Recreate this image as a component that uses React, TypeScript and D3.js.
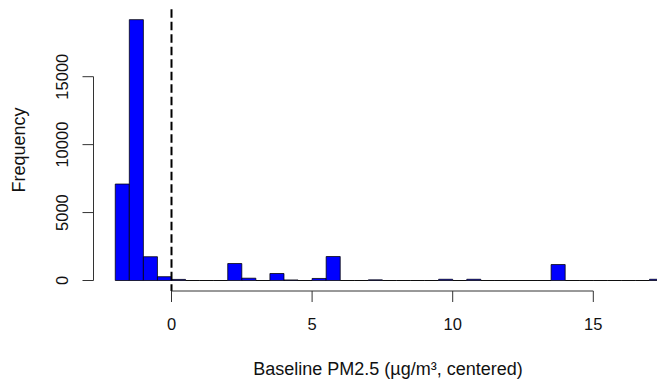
import React from "react";
import * as d3 from "d3";

// Histogram bins (lower edges) and counts
const binStart = -2;
const binWidth = 0.5;
const counts: number[] = [
  7100, 19200, 1750, 280, 80, 0, 0, 0, 1250, 170, 0, 515, 40, 0, 150, 1765,
  0, 0, 50, 0, 0, 0, 0, 90, 0, 90, 0, 0, 0, 0, 0, 1175, 0, 0, 0, 0, 0, 0, 90,
];
const xTicks = [0, 5, 10, 15];
const yTicks = [0, 5000, 10000, 15000];
const xLabel = "Baseline PM2.5 (µg/m³, centered)";
const yLabel = "Frequency";
const refLine = 0;

const W = 657;
const H = 385;
const FONT = "'Liberation Sans', Arial, Helvetica, sans-serif";

export default function App() {
  const x = d3.scaleLinear().domain([0, 15]).range([171.5, 593.3]);
  const y = d3.scaleLinear().domain([0, 15000]).range([280.5, 76.7]);
  const yTop = y(19968);
  const yBottom = y(-768);
  const xLeft = x(-2 - 0.78);

  const bins = counts.map((c, i) => ({
    x0: binStart + i * binWidth,
    x1: binStart + (i + 1) * binWidth,
    c,
  }));

  return (
    <svg
      width={W}
      height={H}
      style={{ position: "absolute", left: 0, top: 0, background: "#fff" }}
      fontFamily={FONT}
    >
      {bins.map((b, i) => {
        const x0 = x(b.x0);
        const x1 = x(b.x1);
        const y0 = y(0);
        const y1 = y(b.c);
        return (
          <path
            key={i}
            d={`M${x0},${y0}V${y1}H${x1}V${y0}Z`}
            fill="#0000ff"
            stroke="#000"
            strokeWidth={0.9}
            strokeOpacity={0.85}
          />
        );
      })}

      {/* reference line */}
      <line
        x1={x(refLine)}
        x2={x(refLine)}
        y1={yTop}
        y2={yBottom}
        stroke="#000"
        strokeWidth={2}
        strokeDasharray="8.5 4"
      />

      {/* x axis */}
      <g stroke="#333" strokeWidth={1}>
        <line x1={x(xTicks[0])} x2={x(xTicks[xTicks.length - 1])} y1={291} y2={291} />
        {xTicks.map((t) => (
          <line key={t} x1={x(t)} x2={x(t)} y1={291} y2={302} />
        ))}
      </g>
      {xTicks.map((t) => (
        <text key={t} x={x(t)} y={330} fontSize={16.5} textAnchor="middle" fill="#111">
          {t}
        </text>
      ))}
      <text x={388} y={375} fontSize={18} textAnchor="middle" fill="#111">
        {xLabel}
      </text>

      {/* y axis */}
      <g stroke="#333" strokeWidth={1}>
        <line x1={93.5} x2={93.5} y1={y(yTicks[0])} y2={y(yTicks[yTicks.length - 1])} />
        {yTicks.map((t) => (
          <line key={t} x1={82.5} x2={93.5} y1={y(t)} y2={y(t)} />
        ))}
      </g>
      {yTicks.map((t) => (
        <text
          key={t}
          transform={`translate(68,${y(t)}) rotate(-90)`}
          fontSize={16.5}
          textAnchor="middle"
          fill="#111"
        >
          {t}
        </text>
      ))}
      <text
        transform={`translate(25,${(yTop + yBottom) / 2}) rotate(-90)`}
        fontSize={18}
        textAnchor="middle"
        fill="#111"
      >
        {yLabel}
      </text>
      {/* unused: plot left edge kept for reference */}
      <g data-left={xLeft} />
    </svg>
  );
}
